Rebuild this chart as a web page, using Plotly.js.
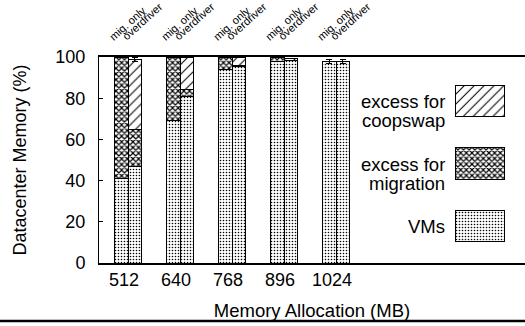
<!DOCTYPE html>
<html>
<head>
<meta charset="utf-8">
<script src="https://cdn.plot.ly/plotly-3.0.1.min.js"></script>
<style>html,body{margin:0;padding:0;background:#fff;}#chart{width:525px;height:326px;}</style>
</head>
<body>
<div id="chart"></div>
<script>
const categories = ['512', '640', '768', '896', '1024'];
const barLabels = ['mig. only', 'overdriver'];
const seriesNames = ['VMs', 'excess for migration', 'excess for coopswap'];
const legendLines = [['VMs'], ['excess for', 'migration'], ['excess for', 'coopswap']];

const migOnlyVMs = [41, 69, 94, 98, 98];
const migOnlyMig = [59, 31, 6, 2, 0];
const migOnlyCoop = [0, 0, 0, 0, 0];
const overVMs = [47, 81, 95.5, 98.5, 98];
const overMig = [18, 3, 0.5, 0, 0];
const overCoop = [34, 16, 4, 1, 0];
const migOnlyErr = [0, 0, 0, 0, 1];
const overErr = [1, 0, 0, 0, 1];

const FONT = 'Liberation Sans, Arial, Helvetica, sans-serif';
const BW = 0.26;
const idx = categories.map((c, i) => i);
const xLeft = idx.map(i => i - BW / 2);
const xRight = idx.map(i => i + BW / 2);
const xs = xLeft.concat(xRight);

const patterns = [
  {shape: '.', fgcolor: '#000', bgcolor: '#fff', size: 3, solidity: 0.22},
  {shape: 'x', fgcolor: '#000', bgcolor: '#fff', size: 4, solidity: 0.5},
  {shape: '/', fgcolor: '#000', bgcolor: '#fff', size: 7, solidity: 0.15}
];
const seriesVals = [
  migOnlyVMs.concat(overVMs),
  migOnlyMig.concat(overMig),
  migOnlyCoop.concat(overCoop)
];

const traces = seriesNames.map((n, s) => {
  const t = {
    type: 'bar', name: n, x: xs, y: seriesVals[s], width: BW,
    marker: {color: '#fff', line: {color: '#000', width: 1}, pattern: patterns[s]},
    showlegend: false, hoverinfo: 'skip'
  };
  if (s === 2) {
    t.error_y = {type: 'data', array: migOnlyErr.concat(overErr), arrayminus: migOnlyErr.concat(overErr),
      color: '#000', thickness: 1, width: 3};
  }
  return t;
});

// legend swatches drawn as bars on a small helper subplot
seriesNames.forEach((n, s) => {
  traces.push({
    type: 'bar', orientation: 'h', x: [1], y: [s], base: 0, width: 0.5,
    xaxis: 'x2', yaxis: 'y3', showlegend: false, hoverinfo: 'skip',
    marker: {color: '#fff', line: {color: '#000', width: 1}, pattern: patterns[s]}
  });
});

const annotations = [];
categories.forEach((c, i) => {
  [xLeft[i], xRight[i]].forEach((xv, b) => {
    annotations.push({
      x: xv, xref: 'x', y: 1.058, yref: 'paper', text: barLabels[b], textangle: -42,
      xanchor: 'left', yanchor: 'bottom', xshift: -17, showarrow: false,
      font: {family: FONT, size: 11, color: '#000'}
    });
  });
});
// legend label line positions (paper y)
const legendLineY = [[0.175], [0.476, 0.388], [0.782, 0.694]];
legendLines.forEach((lines, s) => {
  lines.forEach((l, k) => {
    annotations.push({
      x: 0.817, xref: 'paper', y: legendLineY[s][k], yref: 'paper', text: l,
      xanchor: 'right', yanchor: 'middle', showarrow: false,
      font: {family: FONT, size: 18.5, color: '#000'}
    });
  });
});

const layout = {
  width: 525, height: 326,
  margin: {l: 99, r: 0, t: 57, b: 63, pad: 0},
  paper_bgcolor: '#fff', plot_bgcolor: '#fff',
  barmode: 'stack', bargap: 0,
  font: {family: FONT, color: '#000'},
  xaxis: {
    range: [-0.558, 7.635], tickvals: idx, ticktext: categories,
    showline: true, mirror: true, linecolor: '#000', linewidth: 1.8,
    ticks: '', showgrid: false, zeroline: false,
    tickfont: {family: FONT, size: 18, color: '#000'}, ticklabelstandoff: 0, ticklabelshift: -4,
    title: {text: 'Memory Allocation (MB)', font: {family: FONT, size: 18.5, color: '#000'}, standoff: 15}
  },
  yaxis: {
    range: [0, 100], dtick: 20, ticks: 'inside', ticklen: 4, tickcolor: '#000',
    showline: true, linecolor: '#000', linewidth: 1, showgrid: false, zeroline: false,
    tickfont: {family: FONT, size: 18, color: '#000'}, ticklabelstandoff: 9,
    title: {text: 'Datacenter Memory (%)', font: {family: FONT, size: 18, color: '#000'}, standoff: 24}
  },
  yaxis2: {
    overlaying: 'y', side: 'right', range: [0, 100], dtick: 20, ticks: 'inside', ticklen: 4,
    tickcolor: '#000', showticklabels: false, showline: false, showgrid: false, zeroline: false
  },
  xaxis2: {domain: [0.8357, 0.953], anchor: 'y3', range: [-0.02, 1.02], visible: false, fixedrange: true},
  yaxis3: {domain: [0.102, 0.864], anchor: 'x2', range: [-0.25, 2.25], visible: false, fixedrange: true},
  annotations: annotations,
  shapes: [{type: 'line', xref: 'paper', yref: 'paper', x0: -0.24, x1: 1, y0: -0.2816, y1: -0.2816,
    line: {color: '#000', width: 2.5}}]
};

Plotly.newPlot('chart', traces, layout, {displayModeBar: false, staticPlot: true});
</script>
</body>
</html>
